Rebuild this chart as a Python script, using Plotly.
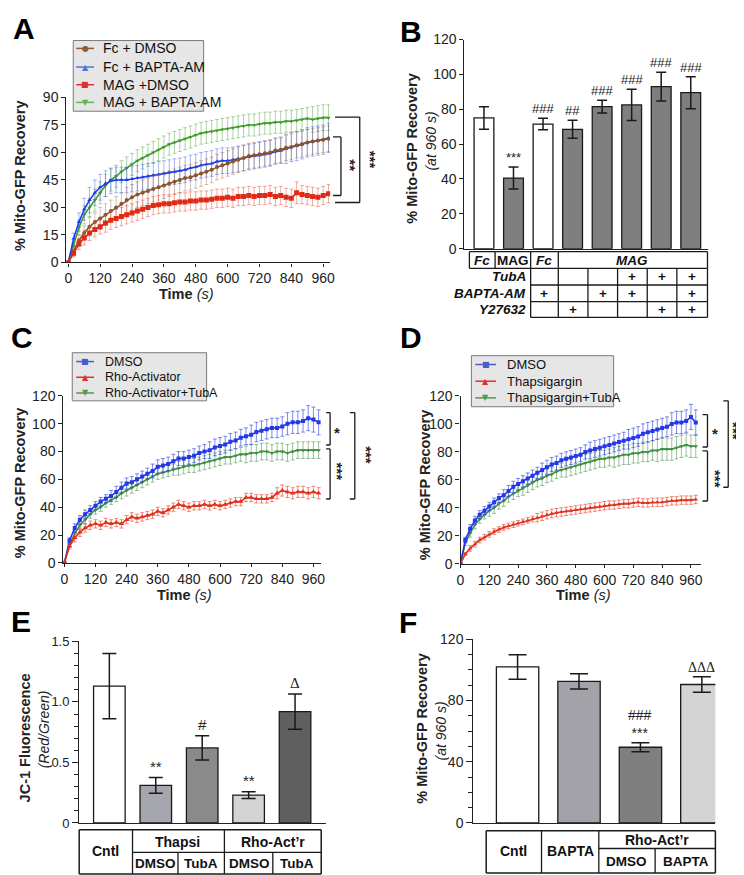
import plotly.graph_objects as go

W, H = 744, 875
FONT = "Liberation Sans, Arial, Helvetica, sans-serif"
INK = "#1a1a1a"


def X(px):
    return px / W


def Y(py):
    return 1 - py / H


# ------------------------------------------------------------------ data
time_s = list(range(0, 1000, 20))
time_ticks = [0, 120, 240, 360, 480, 600, 720, 840, 960]

# Panel A  (% Mito-GFP recovery vs time)
A_names = ["Fc + DMSO", "Fc + BAPTA-AM", "MAG +DMSO", "MAG + BAPTA-AM"]
A_fc_dmso = [0, 6, 12, 16, 19.5, 22, 24, 26, 28, 30,
             32, 34, 35.5, 37, 38, 39, 40, 41, 42, 43,
             44, 45, 46, 46.5, 47.5, 48.5, 49.5, 50.5, 52, 53,
             54, 55, 56, 57, 58, 58.5, 59, 59.5, 60, 61,
             61.5, 62.5, 63, 64, 64.5, 65.5, 66, 66.5, 67, 67.5]
A_fc_bapta = [0, 13, 22, 29, 34, 38, 41, 43, 44.5, 45,
              45, 45, 45.5, 46, 46.5, 47, 47.5, 48, 48.5, 49,
              49.5, 50, 50.5, 51.5, 52, 53, 53.5, 54, 55, 55.5,
              55.5, 56, 56.5, 57, 57.5, 58, 58.5, 59, 59.5, 60.5,
              61, 62, 63, 63.5, 64.5, 65.5, 66, 66.5, 67, 68]
A_mag_dmso = [0, 5, 10, 13.5, 16, 18, 19.5, 21.5, 23, 24,
              25, 26, 27, 28, 29, 30, 31, 31.5, 32, 32,
              32.5, 33, 33, 33.5, 33.5, 34, 34, 34.5, 35, 35,
              35.5, 35, 36, 36, 36.5, 36, 36.5, 36.5, 37, 36,
              36.5, 35.5, 35, 38, 37, 36.5, 36, 35.5, 36.5, 37.5]
A_mag_bapta = [0, 9, 19, 26, 30, 34, 38, 42, 45, 47,
               49.5, 51.5, 53.5, 55.5, 57, 58.5, 60, 61.5, 63, 64.5,
               65.5, 66.5, 67.5, 68.5, 69.5, 70.5, 71, 71.5, 72, 72.5,
               73, 73.5, 74, 74.5, 75, 75, 75.5, 76, 76, 76.5,
               76.5, 77, 77, 77.5, 78, 78.5, 78, 78.5, 79, 79]
A_err_fc_dmso = [0, 2, 3, 4, 5, 5, 6, 6, 6, 6,
                 6, 7, 7, 7, 7, 7, 7, 7, 7, 7,
                 7, 7, 7, 7, 7, 7, 7, 7, 7, 7,
                 7, 7, 7, 7, 7, 7, 7, 7, 7, 7,
                 7, 7, 7, 7, 7, 7, 7, 7, 7, 7]
A_err_fc_bapta = [0, 3, 5, 6, 7, 7, 7, 7, 7, 7,
                  7, 7, 7, 7, 7, 7, 7, 7, 7, 7,
                  7, 7, 7, 7, 7, 7, 7, 7, 7, 7,
                  7, 7, 7, 7, 7, 7, 7, 7, 7, 7,
                  7, 8, 8, 8, 8, 8, 8, 8, 8, 8]
A_err_mag_dmso = [0, 2, 3, 4, 4, 4, 4, 5, 5, 5,
                  5, 5, 5, 5, 5, 5, 5, 5, 5, 5,
                  5, 5, 5, 5, 5, 5, 5, 5, 5, 5,
                  5, 5, 5, 5, 5, 5, 5, 5, 5, 5,
                  5, 5, 5, 6, 5, 5, 5, 5, 5, 5]
A_err_mag_bapta = [0, 2, 4, 5, 5, 6, 6, 6, 6, 6,
                   6, 6, 6, 6, 6, 6, 6, 6, 6, 6,
                   6, 6, 6, 6, 6, 6, 6, 6, 6, 6,
                   6, 6, 6, 6, 6, 6, 6, 6, 6, 6,
                   6, 6, 6, 6, 6, 6, 7, 7, 7, 7]
A_yticks = [0, 15, 30, 45, 60, 75, 90]

# Panel B  (% recovery at 960 s)
B_means = [75, 40.5, 71.5, 68.5, 81.5, 82.5, 93, 89.5]
B_err = [6.5, 6.3, 3.3, 5.2, 3.7, 9.0, 8.3, 9.2]
B_group = ["Fc", "MAG", "Fc", "MAG", "MAG", "MAG", "MAG", "MAG"]
B_tuba = ["", "", "", "", "", "+", "+", "+"]
B_bapta = ["", "", "+", "", "+", "+", "", "+"]
B_y27632 = ["", "", "", "+", "", "", "+", "+"]
B_marks = ["", "***", "###", "##", "###", "###", "###", "###"]
B_fill = ["white", "#7f7f7f", "white", "#7f7f7f", "#7f7f7f", "#7f7f7f", "#7f7f7f", "#7f7f7f"]
B_yticks = [0, 20, 40, 60, 80, 100, 120]

# Panel C
C_names = ["DMSO", "Rho-Activator", "Rho-Activator+TubA"]
C_dmso = [0, 16, 25, 31, 35, 38, 41, 44, 46, 48,
          51, 54, 57, 58, 60, 62, 64, 66, 69, 70,
          71, 73, 75, 75, 76, 77, 79, 80, 81, 83,
          84, 85, 87, 88, 90, 91, 92, 94, 95, 96,
          97, 97, 98, 100, 101, 101, 102, 104, 103, 101]
C_rho = [0, 12, 18, 22, 25, 27, 28, 27, 29, 28,
         29, 28, 31, 33, 32, 33, 34, 35, 37, 36,
         38, 40, 42, 41, 40, 41, 41, 42, 41, 42,
         41, 42, 43, 44, 44, 47, 47, 46, 46, 46,
         47, 50, 52, 51, 50, 51, 51, 50, 51, 50]
C_rho_tuba = [0, 13, 21, 27, 31, 35, 38, 40, 43, 45,
              47, 50, 52, 54, 56, 58, 60, 62, 64, 65,
              66, 67, 68, 69, 70, 70, 71, 72, 73, 74,
              75, 76, 76, 77, 78, 78, 79, 79, 80, 80,
              79, 80, 80, 79, 80, 81, 81, 81, 81, 81]
C_err_dmso = [0, 2, 3, 3, 3, 3, 3, 3, 3, 4,
              4, 4, 4, 4, 4, 4, 4, 5, 5, 5,
              5, 5, 5, 5, 5, 5, 5, 5, 6, 6,
              6, 6, 6, 6, 6, 6, 7, 7, 7, 7,
              7, 7, 7, 8, 8, 8, 8, 9, 9, 9]
C_err_rho = [0, 2, 3, 3, 3, 3, 3, 3, 3, 3,
             3, 3, 3, 3, 3, 3, 3, 3, 3, 3,
             3, 3, 3, 3, 3, 3, 3, 3, 3, 3,
             3, 3, 3, 3, 3, 3, 3, 3, 3, 3,
             3, 4, 4, 4, 4, 4, 4, 4, 4, 4]
C_err_rho_tuba = [0, 2, 2, 3, 3, 3, 3, 3, 3, 3,
                  3, 4, 4, 4, 4, 4, 4, 4, 4, 4,
                  4, 4, 5, 5, 5, 5, 5, 5, 5, 5,
                  5, 5, 5, 5, 5, 6, 6, 6, 6, 6,
                  6, 6, 6, 6, 6, 6, 6, 6, 6, 6]
CD_yticks = [0, 20, 40, 60, 80, 100, 120]

# Panel D
D_names = ["DMSO", "Thapsigargin", "Thapsigargin+TubA"]
D_dmso = [0, 17, 25, 31, 35, 38, 41, 44, 47, 49,
          52, 55, 57, 59, 61, 63, 65, 67, 69, 71,
          72, 74, 75, 76, 77, 78, 80, 81, 82, 83,
          84, 85, 86, 87, 88, 89, 90, 91, 93, 94,
          95, 96, 97, 98, 100, 101, 101, 102, 105, 101]
D_thaps = [0, 7, 11, 14, 17, 19, 21, 23, 24.5, 26,
           27, 28, 29, 30, 31, 32, 33, 34, 35, 36,
           36.5, 37, 37.5, 38, 38.5, 39, 39.5, 40, 40.5, 41,
           41.5, 42, 42, 42.5, 43, 43, 43.5, 44, 43.5, 43.5,
           44, 44, 44, 44.5, 45, 45, 45.5, 45.5, 45.5, 46]
D_thaps_tuba = [0, 15, 22, 28, 32, 35, 38, 40, 43, 45,
                48, 50, 52, 54, 56, 58, 60, 61, 63, 64,
                66, 67, 68, 69, 70, 71, 72, 73, 74, 75,
                75, 76, 76, 77, 78, 78, 79, 79, 80, 80,
                81, 81, 82, 82, 82, 83, 84, 85, 84, 84]
D_err_dmso = [0, 2, 3, 3, 3, 3, 3, 3, 3, 4,
              4, 4, 4, 4, 4, 4, 4, 5, 5, 5,
              5, 5, 5, 5, 5, 5, 5, 6, 6, 6,
              6, 6, 6, 6, 6, 7, 7, 7, 7, 7,
              7, 7, 7, 7, 8, 8, 8, 8, 9, 9]
D_err_thaps = [0, 1, 2, 2, 2, 2, 2, 2, 2, 2,
               2, 2, 2, 2, 2, 2, 3, 3, 3, 3,
               3, 3, 3, 3, 3, 3, 3, 3, 3, 3,
               3, 3, 3, 3, 3, 3, 3, 3, 3, 3,
               3, 3, 3, 3, 3, 3, 3, 3, 3, 3]
D_err_thaps_tuba = [0, 2, 3, 3, 3, 3, 4, 4, 4, 4,
                    4, 4, 4, 5, 5, 5, 5, 5, 5, 5,
                    5, 5, 6, 6, 6, 6, 6, 6, 6, 6,
                    6, 6, 7, 7, 7, 7, 7, 7, 7, 7,
                    7, 8, 8, 8, 8, 8, 8, 8, 8, 8]

# Panel E  (JC-1 red/green)
E_means = [1.13, 0.31, 0.62, 0.23, 0.92]
E_err = [0.27, 0.065, 0.10, 0.028, 0.145]
E_marks = ["", "**", "#", "**", "Δ"]
E_fill = ["white", "#a6a6ae", "#8a8a8a", "#d4d4d4", "#5f5f5f"]
E_yticks = [0, 0.5, 1.0, 1.5]
E_yticktext = ["0", "0.5", "1.0", "1.5"]

# Panel F  (% recovery at 960 s)
F_means = [102, 92.5, 49.5, 90.5]
F_err = [8, 5, 3, 5]
F_marks = ["", "", "###<br>***", "ΔΔΔ"]
F_fill = ["white", "#a2a2a8", "#7f7f7f", "#d4d4d4"]
F_yticks = [0, 40, 80, 120]

# ------------------------------------------------------------------ figure
fig = go.Figure()


def series(xa, ya, y, err, color, ecolor, symbol, size, name):
    fig.add_trace(go.Scatter(
        x=time_s, y=y, name=name, mode="lines+markers", xaxis=xa, yaxis=ya,
        line=dict(color=color, width=1.6),
        marker=dict(symbol=symbol, size=size, color=color, line=dict(width=0)),
        error_y=dict(type="data", array=err, color=ecolor, thickness=0.9, width=2),
        showlegend=False))


# A
series("x", "y", A_mag_bapta, A_err_mag_bapta, "#3f9e2a", "rgba(90,170,70,0.55)", "triangle-down", 4, A_names[3])
series("x", "y", A_fc_bapta, A_err_fc_bapta, "#1c3cf0", "rgba(60,90,230,0.5)", "triangle-up", 4, A_names[1])
series("x", "y", A_fc_dmso, A_err_fc_dmso, "#8a5530", "rgba(150,100,60,0.45)", "circle", 4, A_names[0])
series("x", "y", A_mag_dmso, A_err_mag_dmso, "#e02a16", "rgba(230,80,60,0.55)", "square", 5, A_names[2])

# C
series("x3", "y3", C_rho_tuba, C_err_rho_tuba, "#3f9040", "rgba(80,150,80,0.65)", "triangle-down", 4, C_names[2])
series("x3", "y3", C_dmso, C_err_dmso, "#2438e8", "rgba(50,70,230,0.7)", "square", 4, C_names[0])
series("x3", "y3", C_rho, C_err_rho, "#e0321c", "rgba(230,70,50,0.7)", "triangle-up", 5, C_names[1])

# D
series("x4", "y4", D_thaps_tuba, D_err_thaps_tuba, "#3f9040", "rgba(80,150,80,0.65)", "triangle-down", 4, D_names[2])
series("x4", "y4", D_dmso, D_err_dmso, "#2438e8", "rgba(50,70,230,0.7)", "square", 4, D_names[0])
series("x4", "y4", D_thaps, D_err_thaps, "#e0321c", "rgba(230,70,50,0.7)", "triangle-up", 4, D_names[1])

# B bars
fig.add_trace(go.Bar(
    x=list(range(1, len(B_means) + 1)), y=B_means, xaxis="x2", yaxis="y2", width=0.67,
    marker=dict(color=B_fill, line=dict(color=INK, width=1.3)),
    error_y=dict(type="data", array=B_err, color=INK, thickness=1.5, width=5),
    showlegend=False))
# E bars
fig.add_trace(go.Bar(
    x=list(range(1, len(E_means) + 1)), y=E_means, xaxis="x5", yaxis="y5", width=0.68,
    marker=dict(color=E_fill, line=dict(color=INK, width=1.3)),
    error_y=dict(type="data", array=E_err, color=INK, thickness=1.5, width=7),
    showlegend=False))
# F bars
fig.add_trace(go.Bar(
    x=list(range(1, len(F_means) + 1)), y=F_means, xaxis="x6", yaxis="y6", width=0.69,
    marker=dict(color=F_fill, line=dict(color=INK, width=1.3)),
    error_y=dict(type="data", array=F_err, color=INK, thickness=1.5, width=9),
    showlegend=False))

# ------------------------------------------------------------------ axes
TICKFONT = dict(family=FONT, size=14, color="#222")
base = dict(showline=True, linecolor="#222", linewidth=1.2, showgrid=False, zeroline=False,
            ticks="outside", ticklen=4, tickwidth=1, tickcolor="#222", tickfont=TICKFONT)
bare_x = dict(showline=True, linecolor="#222", linewidth=1.3, showgrid=False, zeroline=False,
              ticks="", showticklabels=False)

layout = dict(
    width=W, height=H, margin=dict(l=0, r=0, t=0, b=0),
    paper_bgcolor="white", plot_bgcolor="white", showlegend=False,
    font=dict(family=FONT, color="#222"),
    xaxis=dict(base, domain=[X(55), X(322)], range=[-7.4, 986], tickvals=time_ticks, anchor="y",
               ticklen=3),
    yaxis=dict(base, domain=[Y(251), Y(83)], range=[0, 90], tickvals=A_yticks, anchor="x"),
    xaxis2=dict(bare_x, domain=[X(458), X(705)], range=[0.34, 8.6], anchor="y2"),
    yaxis2=dict(base, domain=[Y(237), Y(24)], range=[0, 120], tickvals=B_yticks, anchor="x2"),
    xaxis3=dict(base, domain=[X(52), X(313)], range=[-3.8, 990], tickvals=time_ticks, anchor="y3",
                ticklen=3),
    yaxis3=dict(base, domain=[Y(557), Y(387)], range=[0, 120], tickvals=CD_yticks, anchor="x3"),
    xaxis4=dict(base, domain=[X(454), X(697)], range=[0, 1000], tickvals=time_ticks, anchor="y4",
                ticklen=3),
    yaxis4=dict(base, domain=[Y(558), Y(387)], range=[0, 120], tickvals=CD_yticks, anchor="x4"),
    xaxis5=dict(bare_x, domain=[X(68), X(318)], range=[0.35, 5.67], anchor="y5"),
    yaxis5=dict(base, domain=[Y(822), Y(637)], range=[0, 1.5], tickvals=E_yticks,
                ticktext=E_yticktext, anchor="x5", ticklen=6,
                tickfont=dict(family=FONT, size=13, color="#222"),
                minor=dict(tickvals=[0.1, 0.2, 0.3, 0.4, 0.6, 0.7, 0.8, 0.9, 1.1, 1.2, 1.3, 1.4],
                           ticks="outside", ticklen=4, tickcolor="#222")),
    xaxis6=dict(bare_x, domain=[X(467), X(712)], range=[0.28, 4.22], anchor="y6"),
    yaxis6=dict(base, domain=[Y(822), Y(635)], range=[0, 120], tickvals=F_yticks, anchor="x6",
                ticklen=6,
                minor=dict(tickvals=[10, 20, 30, 50, 60, 70, 90, 100, 110],
                           ticks="outside", ticklen=4, tickcolor="#222")),
)
fig.update_layout(**layout)

shapes = []
annotations = []


def ann(px, py, text, size=13, xanchor="center", yanchor="middle", angle=0, family=FONT, color="#222"):
    annotations.append(dict(x=X(px), y=Y(py), xref="paper", yref="paper", text=text, showarrow=False,
                            xanchor=xanchor, yanchor=yanchor, textangle=angle,
                            font=dict(family=family, size=size, color=color)))


def line(x0, y0, x1, y1, width=1.2, color=INK):
    shapes.append(dict(type="line", xref="paper", yref="paper", x0=X(x0), y0=Y(y0), x1=X(x1), y1=Y(y1),
                       line=dict(color=color, width=width)))


def bracket(xl, xr, v0, v1, yref):
    for (a, b, c, d) in [(xl, v0, xr, v0), (xr, v0, xr, v1), (xl, v1, xr, v1)]:
        shapes.append(dict(type="line", xref="paper", yref=yref, x0=X(a), y0=b, x1=X(c), y1=d,
                           line=dict(color=INK, width=1.3)))


def legend(box, entries, font_size, lx0, lx1, tx):
    x0, y0, x1, y1 = box
    shapes.append(dict(type="rect", xref="paper", yref="paper", x0=X(x0), y0=Y(y0), x1=X(x1), y1=Y(y1),
                       fillcolor="#e6e6e6", line=dict(color="#7a7a7a", width=1)))
    for (py, label, color, glyph) in entries:
        line(lx0, py, lx1, py, width=1.5, color=color)
        ann((lx0 + lx1) / 2, py, glyph, size=8, family="DejaVu Sans", color=color)
        ann(tx, py, label, size=font_size, xanchor="left", color="#111")


# panel letters
for (px, py, letter) in [(12, 13, "A"), (404, 16, "B"), (10, 327, "C"), (404, 327, "D"),
                         (9, 617, "E"), (401, 618, "F")]:
    ann(px, py, "<b>%s</b>" % letter, size=30, color="#000")

# axis titles
ann(8, 163, "<b>% Mito-GFP Recovery</b>", size=14.5, angle=-90)
ann(177, 283, "<b>Time</b> <i>(s)</i>", size=14.5)
ann(404, 135, "<b>% Mito-GFP Recovery</b>", size=14.5, angle=-90)
ann(424, 127, "<i>(at 960 s)</i>", size=14, angle=-90)
ann(8, 476, "<b>% Mito-GFP Recovery</b>", size=14.5, angle=-90)
ann(175, 590, "<b>Time</b> <i>(s)</i>", size=14.5)
ann(418, 478, "<b>% Mito-GFP Recovery</b>", size=14.5, angle=-90)
ann(579, 590, "<b>Time</b> <i>(s)</i>", size=14.5)
ann(13, 735, "<b>JC-1 Fluorescence</b>", size=14.5, angle=-90)
ann(32, 727, "<i>(Red/Green)</i>", size=14, angle=-90)
ann(415, 726, "<b>% Mito-GFP Recovery</b>", size=14.5, angle=-90)
ann(434, 728, "<i>(at 960 s)</i>", size=14, angle=-90)

# legends
legend((62, 25, 194, 97),
       [(33, A_names[0], "#8f5b3a", "●"), (52, A_names[1], "#4a78d6", "▲"),
        (70, A_names[2], "#e0302a", "■"), (88, A_names[3], "#62b552", "▼")],
       14, 65, 83, 90)
legend((61, 343, 197, 392),
       [(352, C_names[0], "#4a5cc8", "■"), (368, C_names[1], "#e0302a", "▲"),
        (384, C_names[2], "#4f9a55", "▼")],
       12.5, 65, 83, 92)
legend((465, 346, 609, 398),
       [(355, D_names[0], "#4a5cc8", "■"), (372, D_names[1], "#e0302a", "▲"),
        (389, D_names[2], "#4f9a55", "▼")],
       13, 469, 490, 499)

# significance brackets
bracket(325, 333, 68.5, 36.5, "y")
bracket(327, 352, 79.3, 32.7, "y")
ann(343, 152, "<b>**</b>", size=15, angle=90)
ann(363, 146, "<b>***</b>", size=15, angle=90)

bracket(318, 322, 108, 84.7, "y3")
bracket(318, 322, 81.9, 45.9, "y3")
bracket(342, 347, 108, 45.9, "y3")
ann(329, 424, "<b>*</b>", size=15)
ann(329, 464, "<b>***</b>", size=15, angle=90)
ann(359, 447, "<b>***</b>", size=15, angle=90)

bracket(699, 704, 106.7, 83.5, "y4")
bracket(699, 704, 80.7, 44.9, "y4")
bracket(720, 725, 116.5, 54.7, "y4")
ann(712, 425, "<b>*</b>", size=15)
ann(712, 472, "<b>***</b>", size=15, angle=90)
ann(731, 423, "<b>***</b>", size=15, angle=90)

# bar significance marks
for i, (m, v, e) in enumerate(zip(B_marks, B_means, B_err)):
    if m:
        annotations.append(dict(x=i + 1, y=v + e, xref="x2", yref="y2", text=m, showarrow=False,
                                yanchor="bottom", yshift=0, font=dict(family=FONT, size=13, color="#222")))
for i, (m, v, e) in enumerate(zip(E_marks, E_means, E_err)):
    if m:
        annotations.append(dict(x=i + 1, y=v + e, xref="x5", yref="y5", text=m, showarrow=False,
                                yanchor="bottom", yshift=1,
                                font=dict(family="Liberation Serif, DejaVu Serif" if m == "Δ" else FONT,
                                          size=15, color="#222")))
for i, (m, v, e) in enumerate(zip(F_marks, F_means, F_err)):
    if m:
        annotations.append(dict(x=i + 1, y=v + e, xref="x6", yref="y6", text=m, showarrow=False,
                                yanchor="bottom", yshift=0,
                                font=dict(family="Liberation Serif, DejaVu Serif" if "Δ" in m else FONT,
                                          size=14, color="#222")))

# ---- table B
TW = 1.3
line(463, 240, 704, 240, TW)
line(463, 257, 704, 257, TW)
for xv in [463, 489, 525, 553, 704]:
    line(xv, 240, xv, 257, TW)
edges = [525, 553, 583, 613, 643, 673, 704]
for yv in [274, 291, 307]:
    line(525, yv, 704, yv, TW)
for xv in edges:
    line(xv, 257, xv, 307, TW)
row1 = [(476, "<b><i>%s</i></b>" % B_group[0]), (507, "<b>%s</b>" % B_group[1]),
        (539, "<b><i>%s</i></b>" % B_group[2]), (628, "<b><i>%s</i></b>" % B_group[3])]
for (px, txt) in row1:
    ann(px, 249, txt, size=13.5, color="#111")
for (py, label, marks) in [(265.5, "TubA", B_tuba), (282.5, "BAPTA-AM", B_bapta), (299, "Y27632", B_y27632)]:
    ann(522, py, "<b><i>%s</i></b>" % label, size=13.5, xanchor="right", color="#111")
    for j, mk in enumerate(marks[2:]):
        if mk:
            ann((edges[j] + edges[j + 1]) / 2, py, "<b>+</b>", size=13.5, color="#111")

# ---- table E
line(68, 829, 313, 829, 1.5)
line(68, 874, 313, 874, 1.5)
line(68, 829, 68, 874, 1.5)
line(313, 829, 313, 874, 1.5)
line(122, 829, 122, 874, TW)
line(215, 829, 215, 874, TW)
line(122, 852, 313, 852, TW)
line(168, 852, 168, 874, TW)
line(264, 852, 264, 874, TW)
ann(95, 851, "<b>Cntl</b>", size=14, color="#111")
ann(168, 841, "<b>Thapsi</b>", size=14, color="#111")
ann(264, 841, "<b>Rho-Act’r</b>", size=14, color="#111")
for (px, txt) in [(145, "DMSO"), (191, "TubA"), (240, "DMSO"), (288, "TubA")]:
    ann(px, 863.5, "<b>%s</b>" % txt, size=13.5, color="#111")

# ---- table F
line(480, 830, 712, 830, 1.5)
line(480, 873, 712, 873, 1.5)
line(480, 830, 480, 873, 1.5)
line(712, 830, 712, 873, 1.5)
line(536, 830, 536, 873, TW)
line(594, 830, 594, 873, TW)
line(594, 848, 712, 848, TW)
line(651, 848, 651, 873, TW)
ann(508, 851, "<b>Cntl</b>", size=14, color="#111")
ann(565, 851, "<b>BAPTA</b>", size=14, color="#111")
ann(653, 839, "<b>Rho-Act’r</b>", size=14, color="#111")
ann(622, 861, "<b>DMSO</b>", size=13.5, color="#111")
ann(682, 861, "<b>BAPTA</b>", size=13.5, color="#111")

fig.update_layout(shapes=shapes, annotations=annotations)
fig.write_html("out.html")
